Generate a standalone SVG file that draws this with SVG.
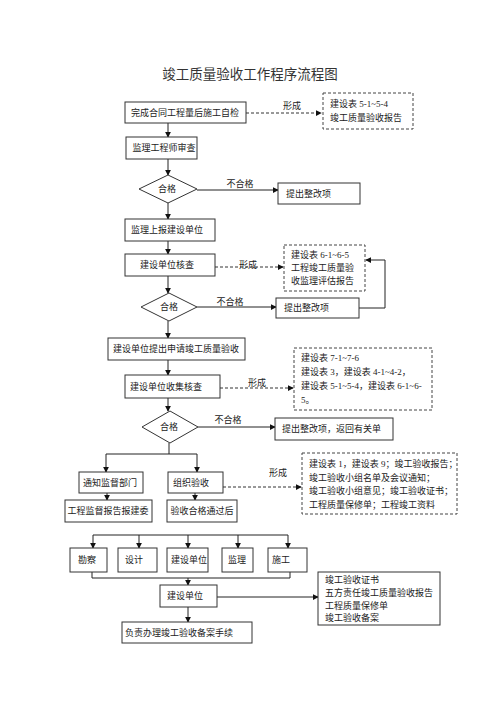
<svg xmlns="http://www.w3.org/2000/svg" width="500" height="708" viewBox="0 0 500 708">
<style>
text{font-family:"Liberation Serif","Noto Sans CJK SC",serif;font-size:9px;fill:#222}
.t{font-size:13.5px;fill:#333}
.c{text-anchor:middle}
.b{fill:#fff;stroke:#333;stroke-width:1}
.d{fill:#fff;stroke:#444;stroke-width:1;stroke-dasharray:3,2}
.l{fill:none;stroke:#222;stroke-width:1}
.dl{fill:none;stroke:#333;stroke-width:1;stroke-dasharray:3,2}
</style>
<defs>
<marker id="a" viewBox="0 0 8 8" refX="7" refY="4" markerWidth="6" markerHeight="6" orient="auto" markerUnits="userSpaceOnUse"><path d="M0,0L8,4L0,8z" fill="#111"/></marker>
</defs>
<rect width="500" height="708" fill="#fff"/>
<text class="t c" x="250" y="79">竣工质量验收工作程序流程图</text>

<g id="connectors">
<path class="dl" d="M246,113H321" marker-end="url(#a)"/>
<path class="l" d="M168,123V137" marker-end="url(#a)"/>
<path class="l" d="M168,159V175" marker-end="url(#a)"/>
<path class="l" d="M197,190H278" marker-end="url(#a)"/>
<path class="l" d="M168,203V219" marker-end="url(#a)"/>
<path class="l" d="M168,241V254" marker-end="url(#a)"/>
<path class="dl" d="M215,267H283" marker-end="url(#a)"/>
<path class="l" d="M168,276V293" marker-end="url(#a)"/>
<path class="l" d="M197,307H276" marker-end="url(#a)"/>
<path class="l" d="M359,308H385V260H366" marker-end="url(#a)"/>
<path class="l" d="M168,321V338" marker-end="url(#a)"/>
<path class="l" d="M168,360V375" marker-end="url(#a)"/>
<path class="dl" d="M220,388H293" marker-end="url(#a)"/>
<path class="l" d="M168,398V411" marker-end="url(#a)"/>
<path class="l" d="M198,427H275" marker-end="url(#a)"/>
<path class="l" d="M169,443V454"/>
<path class="l" d="M106,454H197"/>
<path class="l" d="M106,454V472" marker-end="url(#a)"/>
<path class="l" d="M197,454V472" marker-end="url(#a)"/>
<path class="dl" d="M223,487H301" marker-end="url(#a)"/>
<path class="l" d="M107,493V500" marker-end="url(#a)"/>
<path class="l" d="M195,493V500" marker-end="url(#a)"/>
<path class="l" d="M93,535H288"/>
<path class="l" d="M93,535V548" marker-end="url(#a)"/>
<path class="l" d="M139,535V548" marker-end="url(#a)"/>
<path class="l" d="M188,535V548" marker-end="url(#a)"/>
<path class="l" d="M238,535V548" marker-end="url(#a)"/>
<path class="l" d="M288,535V548" marker-end="url(#a)"/>
<path class="l" d="M92,572V578H290V572"/>
<path class="l" d="M188,578V585" marker-end="url(#a)"/>
<path class="l" d="M217,597H318" marker-end="url(#a)"/>
<path class="l" d="M188,607V622" marker-end="url(#a)"/>
</g>

<text class="c" x="292" y="109">形成</text>
<text class="c" x="240" y="187">不合格</text>
<text class="c" x="248" y="268">形成</text>
<text class="c" x="230" y="305">不合格</text>
<text class="c" x="257" y="386">形成</text>
<text class="c" x="228" y="423">不合格</text>
<text class="c" x="278" y="476">形成</text>

<g id="n1"><rect class="b" x="125" y="102" width="121" height="21"/><text class="c" x="185" y="116">完成合同工程量后施工自检</text></g>
<g id="n1d"><rect class="d" x="323" y="93" width="90" height="36"/><text x="330" y="107">建设表 5-1~5-4</text><text x="330" y="121">竣工质量验收报告</text></g>
<g id="n2"><rect class="b" x="126" y="137" width="71" height="22"/><text class="c" x="164" y="151">监理工程师审查</text></g>
<g id="q1"><path class="b" d="M168,175L197,189L168,203L139,189Z"/><text class="c" x="167" y="192">合格</text></g>
<g id="r1"><rect class="b" x="278" y="183" width="82" height="21"/><text x="286" y="197">提出整改项</text></g>
<g id="n3"><rect class="b" x="125" y="219" width="90" height="22"/><text class="c" x="167" y="233">监理上报建设单位</text></g>
<g id="n4"><rect class="b" x="125" y="254" width="90" height="22"/><text class="c" x="167" y="268">建设单位核查</text></g>
<g id="n4d"><rect class="d" x="284" y="245" width="81" height="46"/><text x="291" y="258">建设表 6-1~6-5</text><text x="291" y="271">工程竣工质量验</text><text x="291" y="284">收监理评估报告</text></g>
<g id="q2"><path class="b" d="M169,293L197,307L169,321L141,307Z"/><text class="c" x="169" y="310">合格</text></g>
<g id="r2"><rect class="b" x="276" y="298" width="83" height="20"/><text x="284" y="311">提出整改项</text></g>
<g id="n5"><rect class="b" x="108" y="338" width="137" height="22"/><text class="c" x="176" y="352">建设单位提出申请竣工质量验收</text></g>
<g id="n6"><rect class="b" x="125" y="375" width="95" height="23"/><text class="c" x="166" y="390">建设单位收集核查</text></g>
<g id="n6d"><rect class="d" x="294" y="348" width="138" height="62"/><text x="301" y="361">建设表 7-1~7-6</text><text x="301" y="375">建设表 3，建设表 4-1~4-2，</text><text x="301" y="389">建设表 5-1~5-4，建设表 6-1~6-</text><text x="301" y="403">5。</text></g>
<g id="q3"><path class="b" d="M170,411L198,427L170,443L142,427Z"/><text class="c" x="169" y="430">合格</text></g>
<g id="r3"><rect class="b" x="275" y="418" width="118" height="22"/><text x="282" y="432">提出整改项，返回有关单</text></g>
<g id="n7a"><rect class="b" x="79" y="472" width="64" height="21"/><text class="c" x="110" y="486">通知监督部门</text></g>
<g id="n7b"><rect class="b" x="168" y="472" width="55" height="21"/><text x="173" y="486">组织验收</text></g>
<g id="n7d"><rect class="d" x="302" y="453" width="155" height="61"/><text x="309" y="467">建设表 1，建设表 9；竣工验收报告；</text><text x="309" y="481">竣工验收小组名单及会议通知；</text><text x="309" y="494">竣工验收小组意见；竣工验收证书；</text><text x="309" y="508">工程质量保修单；工程竣工资料</text></g>
<g id="n8a"><rect class="b" x="65" y="500" width="87" height="22"/><text class="c" x="108" y="514">工程监督报告报建委</text></g>
<g id="n8b"><rect class="b" x="167" y="500" width="70" height="22"/><text class="c" x="202" y="514">验收合格通过后</text></g>
<g id="p1"><rect class="b" x="70" y="548" width="37" height="24"/><text x="78" y="563">勘察</text></g>
<g id="p2"><rect class="b" x="118" y="548" width="39" height="24"/><text x="125" y="563">设计</text></g>
<g id="p3"><rect class="b" x="167" y="548" width="41" height="24"/><text x="171" y="563">建设单位</text></g>
<g id="p4"><rect class="b" x="222" y="548" width="31" height="24"/><text x="228" y="563">监理</text></g>
<g id="p5"><rect class="b" x="268" y="548" width="39" height="24"/><text x="272" y="563">施工</text></g>
<g id="n9"><rect class="b" x="160" y="585" width="57" height="22"/><text x="167" y="599">建设单位</text></g>
<g id="n9d"><rect class="b" x="318" y="572" width="122" height="53"/><text x="325" y="583">竣工验收证书</text><text x="325" y="596">五方责任竣工质量验收报告</text><text x="325" y="609">工程质量保修单</text><text x="325" y="621">竣工验收备案</text></g>
<g id="n10"><rect class="b" x="122" y="622" width="130" height="21"/><text x="125" y="636">负责办理竣工验收备案手续</text></g>
</svg>
